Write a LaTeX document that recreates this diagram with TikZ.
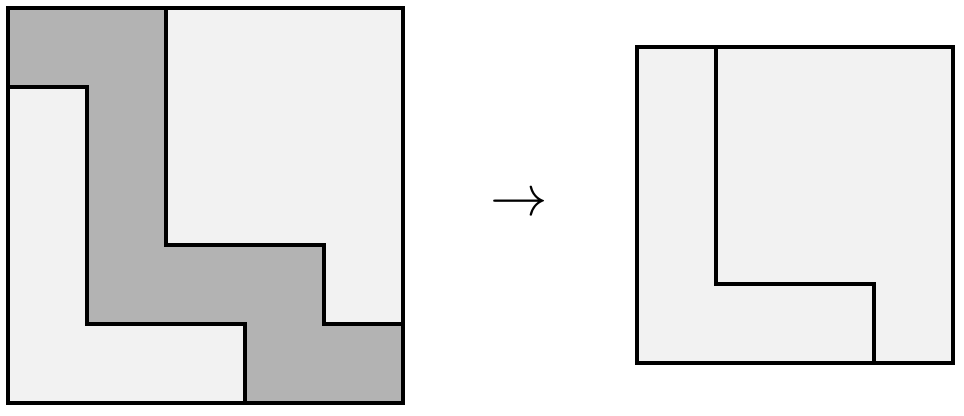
\documentclass[tikz,border=0pt]{standalone}
\begin{document}
\begin{tikzpicture}[x=0.75pt,y=-0.75pt,
  darkreg/.style={fill={rgb,255:red,179;green,179;blue,179}},
  lightreg/.style={fill={rgb,255:red,242;green,242;blue,242}},
  edge/.style={draw=black,line width=2.4pt,line join=miter},
  inner/.style={draw=black,line width=2.4pt,line join=miter}]
\useasboundingbox (0,0) rectangle (964,415);
% left square
\fill[lightreg] (8,8) rectangle (403,403);
\fill[darkreg] (8,8) -- (166,8) -- (166,245) -- (324,245) -- (324,324) -- (403,324) -- (403,403) -- (245,403) -- (245,324) -- (87,324) -- (87,87) -- (8,87) -- cycle;
\draw[inner] (8,87) -- (87,87) -- (87,324) -- (245,324) -- (245,403);
\draw[inner] (166,8) -- (166,245) -- (324,245) -- (324,324) -- (403,324);
\draw[edge] (8,8) rectangle (403,403);
% arrow
\node[scale=4.3,inner sep=0pt] (arr) at (519,205) {$\rightarrow$};
% right square
\fill[lightreg] (637,47) rectangle (953,363);
\draw[inner] (716,47) -- (716,284) -- (874,284) -- (874,363);
\draw[edge] (637,47) rectangle (953,363);
\end{tikzpicture}
\end{document}
